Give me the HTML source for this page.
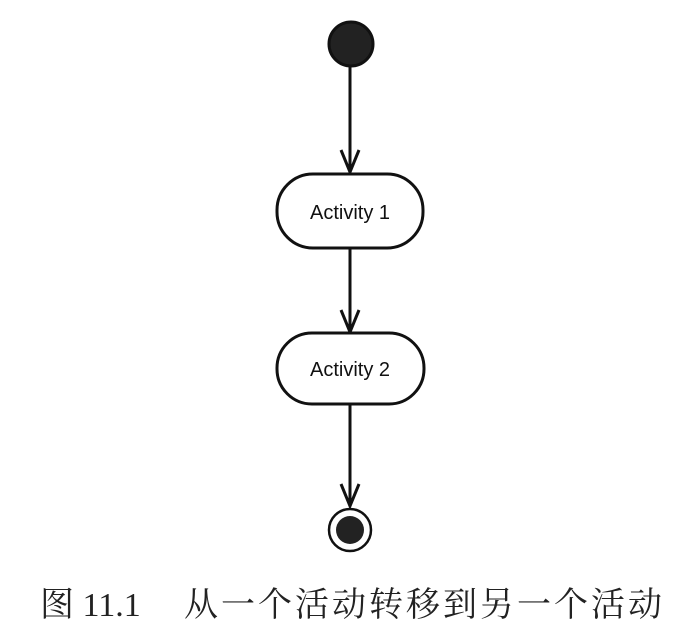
<!DOCTYPE html>
<html><head><meta charset="utf-8"><style>
html,body{margin:0;padding:0;background:#fff;}
body{width:691px;height:625px;position:relative;overflow:hidden;}
.cap{position:absolute;top:577px;font-family:"Liberation Serif","Noto Serif CJK SC",serif;font-size:34px;color:#222;white-space:nowrap;}
.cjk{letter-spacing:3px;}
</style></head><body>
<svg width="691" height="625" style="position:absolute;left:0;top:0">
<g stroke="#111" stroke-width="3" fill="none">
<circle cx="351" cy="44" r="22" fill="#222"/>
<line x1="350" y1="66" x2="350" y2="172"/>
<polyline points="341,150 350,172 359,150"/>
<rect x="277" y="174" width="146" height="74" rx="36" fill="#fff"/>
<line x1="350" y1="248" x2="350" y2="332"/>
<polyline points="341,310 350,332 359,310"/>
<rect x="277" y="333" width="147" height="71" rx="35" fill="#fff"/>
<line x1="350" y1="404" x2="350" y2="506"/>
<polyline points="341,484 350,506 359,484"/>
<circle cx="350" cy="530" r="21" fill="#fff" stroke-width="2.5"/>
<circle cx="350" cy="530" r="14" fill="#222" stroke="none"/>
</g>
<g font-family="Liberation Sans, sans-serif" font-size="20" fill="#111" text-anchor="middle">
<text x="350" y="219">Activity 1</text>
<text x="350" y="376">Activity 2</text>
</g>
</svg>
<div class="cap" style="left:40px">图 11.1</div>
<div class="cap cjk" style="left:184px">从一个活动转移到另一个活动</div>
</body></html>
